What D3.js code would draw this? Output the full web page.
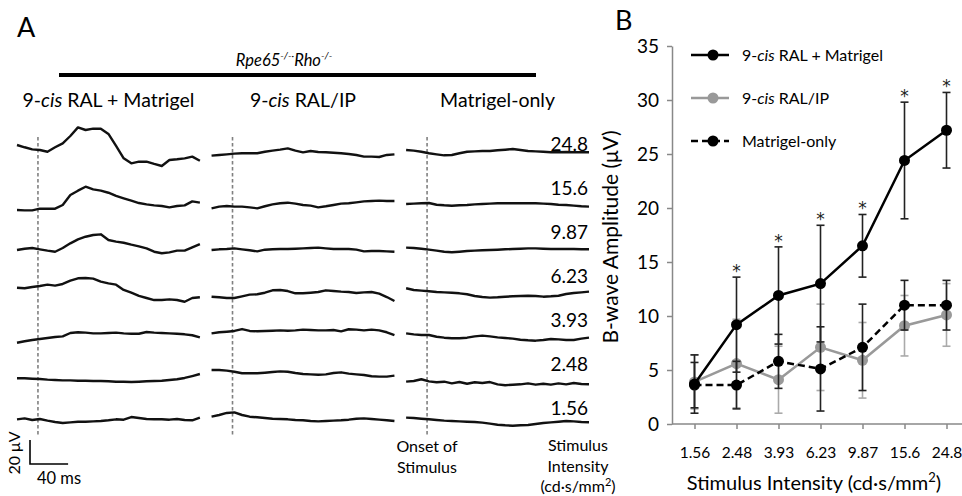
<!DOCTYPE html>
<html>
<head>
<meta charset="utf-8">
<script src="https://cdn.jsdelivr.net/npm/d3@7"></script>
<style>
body { margin: 0; background: #fff; }
svg { font-family: Lato, "Open Sans", sans-serif; }
</style>
</head>
<body>
<svg id="chart" width="962" height="496"></svg>
<script>
// ---- panel A data ----
var intensities = ["24.8", "15.6", "9.87", "6.23", "3.93", "2.48", "1.56"]
var groups = ["9-cis RAL + Matrigel", "9-cis RAL/IP", "Matrigel-only"]

// ERG traces in µV, one sample every 8 ms starting 22 ms before the flash
var tracesRalMatrigel = [
  [10.0, 8.1, 6.4, 5.8, 4.4, 8.1, 11.4, 17.5, 24.7, 22.5, 23.6, 23.6, 19.2, 9.2, -1.1, -5.3, -3.9, -3.9, -5.8, -7.5, -2.5, -1.9, -1.1, 0.3, -3.1],
  [-7.5, -7.8, -7.8, -6.4, -6.4, -6.4, -3.3, 5.0, 8.6, 11.9, 9.7, 8.6, 6.9, 4.2, 2.2, 0.3, -1.7, -2.8, -3.6, -4.2, -5.3, -4.2, -3.6, -0.3, -1.4],
  [-4.2, -3.1, -2.5, -3.6, -4.7, -5.6, -2.5, 1.4, 4.7, 6.9, 8.3, 8.9, 4.2, 2.8, 1.9, 0.3, -1.1, -2.8, -5.6, -6.9, -6.1, -4.7, -4.7, -1.9, 0.8],
  [1.1, 0.6, 1.7, 2.5, 3.6, 2.8, 4.2, 6.9, 8.9, 9.2, 8.6, 6.1, 4.7, 3.6, -0.8, -3.1, -5.8, -7.5, -9.2, -9.2, -8.6, -9.2, -10.6, -7.5, -6.9],
  [-8.1, -6.9, -5.8, -5.0, -4.2, -3.3, -2.8, 0, 0.6, 0.3, -0.3, -0.3, 0, 0.3, -0.3, -0.6, -0.6, 0.8, 0.3, 0, -0.3, -0.6, -1.1, -1.9, -3.6],
  [-1.1, -1.1, -1.4, -1.7, -2.2, -2.5, -2.8, -2.8, -3.1, -3.1, -3.3, -3.3, -3.6, -3.9, -3.9, -4.2, -3.9, -3.6, -3.3, -3.1, -2.5, -1.9, -0.8, 0.8, 2.5],
  [1.4, 2.2, 0.8, 1.7, 0.3, -0.8, -1.7, -1.1, -0.6, -0.6, -0.3, 0, 0.6, 1.4, 1.1, 3.3, 2.5, 1.7, 1.4, 1.4, 1.1, 1.7, 0.8, 0.6, 2.8]
]
var tracesRalIP = [
  [1.1, 1.7, 2.2, 2.8, 3.1, 3.1, 3.1, 4.4, 5.3, 6.1, 7.2, 5.3, 3.9, 5.0, 4.2, 3.9, 3.6, 3.1, 2.5, 1.7, 0.3, 0.3, 0, 1.7, 2.2],
  [-6.1, -4.7, -4.2, -4.7, -4.7, -5.3, -6.1, -4.4, -2.8, -1.9, -1.4, -2.2, -3.3, -3.9, -5.3, -4.4, -3.3, -2.2, -1.9, -1.1, -0.3, 0, 0.3, 0, 0],
  [-4.2, -3.6, -3.3, -2.8, -3.6, -4.4, -5.3, -3.9, -3.6, -3.3, -3.3, -3.1, -2.8, -2.5, -2.2, -2.8, -3.3, -3.3, -3.3, -3.9, -5.3, -5.0, -5.0, -5.3, -5.6],
  [-6.4, -6.9, -7.5, -7.5, -6.1, -4.7, -4.4, -3.1, -1.1, -0.8, -1.7, -3.6, -3.6, -3.1, -2.5, -1.1, -1.7, -2.2, -2.5, -3.3, -2.8, -2.5, -3.9, -6.7, -10.0],
  [-0.3, 0.6, 1.1, 1.7, 3.3, 1.7, 1.4, 1.7, 1.9, 2.2, 1.9, 2.2, 2.8, 2.5, 2.2, 2.2, 2.5, 1.4, 3.1, 2.8, 2.2, 2.8, 2.2, 0.6, -1.7],
  [5.8, 5.8, 5.3, 4.4, 3.1, 3.1, 3.1, 3.6, 4.2, 4.7, 4.4, 3.3, 2.5, 2.2, 1.9, 2.2, 3.3, 3.9, 2.8, 2.2, 1.7, 0.6, 0.3, 0.3, 1.1],
  [3.6, 5.0, 6.7, 7.2, 5.0, 3.6, 3.1, 2.5, 1.9, 1.7, 1.4, 0.8, 0.6, 0, -0.3, 0, 0.3, 0.6, 1.1, 1.9, 2.2, 1.7, 1.1, 0.6, 0]
]
var tracesMatrigelOnly = [
  [5.8, 5.3, 4.4, 3.1, 2.2, 1.4, 1.7, 3.1, 4.4, 4.7, 5.0, 5.0, 5.6, 6.1, 6.7, 5.8, 5.0, 4.7, 4.4, 3.9, 3.9, 4.2, 3.9, 3.9, 3.9],
  [-2.5, -2.2, -1.9, -1.7, -3.1, -3.6, -3.9, -3.6, -3.3, -2.8, -2.5, -2.2, -1.9, -1.9, -1.9, -1.9, -1.9, -1.9, -2.2, -2.5, -3.1, -3.3, -3.9, -4.4, -4.7],
  [-2.2, -2.5, -3.1, -3.9, -4.7, -5.6, -6.1, -5.6, -5.0, -4.7, -4.4, -4.2, -3.9, -3.6, -3.3, -3.1, -2.8, -2.8, -3.1, -3.3, -3.3, -3.3, -3.3, -3.6, -3.6],
  [0.6, -0.8, -1.4, -1.9, -2.5, -2.8, -3.1, -3.6, -4.4, -5.8, -6.7, -7.2, -6.9, -6.4, -6.1, -5.8, -5.6, -5.8, -6.4, -6.1, -5.6, -4.2, -3.3, -2.8, -2.2],
  [-0.3, -1.1, -1.7, -1.7, -3.1, -3.9, -4.4, -4.4, -3.9, -2.8, -2.2, -2.8, -3.6, -4.2, -4.7, -5.6, -6.1, -6.4, -5.8, -5.0, -5.3, -5.8, -5.8, -4.7, -3.9],
  [-3.9, -3.3, -1.9, -3.6, -4.4, -3.9, -5.3, -4.2, -5.6, -4.4, -5.0, -4.2, -6.1, -6.9, -6.4, -6.1, -5.3, -6.4, -5.6, -6.4, -5.3, -6.1, -5.0, -5.8, -6.1],
  [2.8, 2.5, 1.9, 1.4, 0.8, 0.3, 0, -0.3, -0.6, -0.8, -1.4, -2.2, -3.1, -3.6, -3.9, -3.6, -3.3, -2.5, -1.7, -1.1, -0.6, 0, -0.3, -0.8, -1.1]
]

// ---- panel B data ----
var xTicks = ["1.56", "2.48", "3.93", "6.23", "9.87", "15.6", "24.8"]
var yTicks = [0, 5, 10, 15, 20, 25, 30, 35]
var ralMatrigel = [3.7, 9.2, 11.9, 13.0, 16.5, 24.4, 27.2]
var ralMatrigelErr = [2.7, 4.4, 4.5, 5.4, 2.9, 5.4, 3.5]
var ralIP = [3.9, 5.6, 4.1, 7.1, 5.9, 9.1, 10.1]
var ralIPErr = [2.5, 4.1, 3.1, 4.0, 3.5, 2.8, 2.9]
var matrigelOnly = [3.6, 3.6, 5.8, 5.1, 7.1, 11.0, 11.0]
var matrigelOnlyErr = [2.1, 2.2, 2.5, 3.9, 4.0, 2.3, 2.3]
var significant = [false, true, true, true, true, true, true]

var svg = d3.select("#chart")

// italic "cis" inside a label
function cisText(sel, label) {
  var parts = label.split("cis")
  if (parts.length < 2) { sel.text(label); return }
  sel.append("tspan").text(parts[0])
  sel.append("tspan").style("font-style", "italic").text("cis")
  sel.append("tspan").text(parts[1])
}

// ================= Panel A =================
var colX = d3.scaleBand().domain(groups).range([17, 589]).paddingInner(0.06)
var rowY = d3.scalePoint().domain(intensities).range([157, 421])
var amp = d3.scaleLinear().domain([0, 20]).range([0, -24])   // µV -> px offset
var t0 = -22, dt = 8

svg.append("text").attr("x", 17).attr("y", 37).attr("font-size", 27).text("A")

var geno = svg.append("text").attr("x", 284).attr("y", 66).attr("text-anchor", "middle")
  .attr("font-size", 16.5).style("font-style", "italic")
geno.append("tspan").text("Rpe65")
geno.append("tspan").attr("dy", -7).attr("font-size", 10).text("-/-·")
geno.append("tspan").attr("dy", 7).text("Rho")
geno.append("tspan").attr("dy", -7).attr("font-size", 10).text("-/-")

svg.append("line").attr("x1", 59).attr("x2", 536).attr("y1", 75).attr("y2", 75)
  .attr("stroke", "#000").attr("stroke-width", 4)

svg.selectAll(".gtitle").data(groups).enter().append("text")
  .attr("class", "gtitle")
  .attr("x", function(d) { return colX(d) + colX.bandwidth() / 2 })
  .attr("y", 107).attr("text-anchor", "middle").attr("font-size", 19.5)
  .each(function(d) { cisText(d3.select(this), d) })

var allTraces = [tracesRalMatrigel, tracesRalIP, tracesMatrigelOnly]

groups.forEach(function(g, gi) {
  var tx = d3.scaleLinear().domain([t0, t0 + dt * 24]).range([colX(g), colX(g) + colX.bandwidth()])

  svg.append("line").attr("x1", tx(0)).attr("x2", tx(0)).attr("y1", 137).attr("y2", 437)
    .attr("stroke", "#808080").attr("stroke-width", 1.6).attr("stroke-dasharray", "3.5,2.5")

  allTraces[gi].forEach(function(tr, ri) {
    var base = rowY(intensities[ri])
    var line = d3.line()
      .x(function(v, i) { return tx(t0 + dt * i) })
      .y(function(v) { return base + amp(v) })
    svg.append("path").attr("d", line(tr)).attr("fill", "none")
      .attr("stroke", "#111").attr("stroke-width", 2.4).attr("stroke-linejoin", "round")
  })
})

svg.selectAll(".ilab").data(intensities).enter().append("text")
  .attr("class", "ilab").attr("x", 588).attr("y", function(d) { return rowY(d) - 6 })
  .attr("text-anchor", "end").attr("font-size", 19).text(function(d) { return d })

// scale bar (20 µV, 40 ms)
var txBar = d3.scaleLinear().domain([t0, t0 + dt * 24]).range([colX(groups[0]), colX(groups[0]) + colX.bandwidth()])
var bx = 30, by = 464
var barW = txBar(40) - txBar(0)
svg.append("path")
  .attr("d", "M" + bx + "," + (by + amp(20)) + "V" + by + "H" + (bx + barW))
  .attr("fill", "none").attr("stroke", "#000").attr("stroke-width", 1.6)
svg.append("text").attr("transform", "translate(20,453) rotate(-90)").attr("text-anchor", "middle")
  .attr("font-size", 16).text("20 μV")
svg.append("text").attr("x", 37).attr("y", 484).attr("font-size", 16.5).text("40 ms")

var onset = svg.append("text").attr("text-anchor", "middle").attr("font-size", 16)
onset.append("tspan").attr("x", 427).attr("y", 452).text("Onset of")
onset.append("tspan").attr("x", 427).attr("y", 473).text("Stimulus")
var si = svg.append("text").attr("text-anchor", "middle").attr("font-size", 16)
si.append("tspan").attr("x", 578).attr("y", 451).text("Stimulus")
si.append("tspan").attr("x", 578).attr("y", 472).text("Intensity")
si.append("tspan").attr("x", 578).attr("y", 492).text("(cd·s/mm")
si.append("tspan").attr("dy", -6).attr("font-size", 11).text("2")
si.append("tspan").attr("dy", 6).text(")")

// ================= Panel B =================
var x = d3.scalePoint().domain(xTicks).range([673.5, 967.5]).padding(0.5)
var y = d3.scaleLinear().domain([0, 35]).range([424, 46])

svg.append("text").attr("x", 615).attr("y", 30).attr("font-size", 27).text("B")

var gy = svg.append("g").attr("transform", "translate(672,0)")
  .call(d3.axisLeft(y).tickValues(yTicks).tickSize(5).tickSizeOuter(0).tickPadding(8))
gy.selectAll("text").attr("font-size", 19).attr("font-family", "Lato, sans-serif").attr("fill", "#000")
gy.selectAll("line, path").attr("stroke", "#888").attr("stroke-width", 1.5)

var gx = svg.append("g").attr("transform", "translate(0,424)")
  .call(d3.axisBottom(x).tickSize(5).tickSizeOuter(0).tickPadding(18))
gx.select(".domain").attr("d", "M672,0H962")
gx.selectAll("text").attr("font-size", 15.5).attr("font-family", "Lato, sans-serif").attr("fill", "#000")
gx.selectAll("line, path").attr("stroke", "#888").attr("stroke-width", 1.5)

svg.append("text").attr("transform", "translate(618,237) rotate(-90)").attr("text-anchor", "middle")
  .attr("font-size", 21).text("B-wave Amplitude (μV)")

var xt = svg.append("text").attr("x", 814).attr("y", 490).attr("text-anchor", "middle").attr("font-size", 20)
xt.append("tspan").text("Stimulus Intensity (cd·s/mm")
xt.append("tspan").attr("dy", -8).attr("font-size", 13).text("2")
xt.append("tspan").attr("dy", 8).text(")")

var series = [
  { name: "9-cis RAL + Matrigel", vals: ralMatrigel, err: ralMatrigelErr, color: "#000", bar: "#222", dash: null },
  { name: "9-cis RAL/IP", vals: ralIP, err: ralIPErr, color: "#999", bar: "#aaa", dash: null },
  { name: "Matrigel-only", vals: matrigelOnly, err: matrigelOnlyErr, color: "#000", bar: "#222", dash: "7,4" }
]
var drawOrder = [1, 2, 0]

drawOrder.forEach(function(si) {
  var s = series[si]
  var g = svg.append("g")
  s.vals.forEach(function(v, i) {
    var cx = x(xTicks[i])
    var top = y(v + s.err[i]), bot = y(v - s.err[i])
    g.append("line").attr("x1", cx).attr("x2", cx).attr("y1", top).attr("y2", bot)
      .attr("stroke", s.bar).attr("stroke-width", 1.6)
    ;[top, bot].forEach(function(yy) {
      g.append("line").attr("x1", cx - 4).attr("x2", cx + 4).attr("y1", yy).attr("y2", yy)
        .attr("stroke", s.bar).attr("stroke-width", 1.6)
    })
  })
  var line = d3.line().x(function(v, i) { return x(xTicks[i]) }).y(function(v) { return y(v) })
  g.append("path").attr("d", line(s.vals)).attr("fill", "none").attr("stroke", s.color)
    .attr("stroke-width", 2.5).attr("stroke-dasharray", s.dash)
  g.selectAll("circle").data(s.vals).enter().append("circle")
    .attr("cx", function(v, i) { return x(xTicks[i]) }).attr("cy", function(v) { return y(v) })
    .attr("r", 5.5).attr("fill", s.color)
})

// significance stars
var starIdx = d3.range(xTicks.length).filter(function(i) { return significant[i] })
svg.selectAll(".star").data(starIdx).enter().append("text")
  .attr("class", "star")
  .attr("x", function(i) { return x(xTicks[i]) })
  .attr("y", function(i) { return y(ralMatrigel[i] + ralMatrigelErr[i]) + 0 })
  .attr("text-anchor", "middle").attr("font-size", 17).attr("font-family", "DejaVu Sans, sans-serif")
  .attr("fill", "#222").text("*")

// legend
var legY = d3.scalePoint().domain(series.map(function(s) { return s.name })).range([55, 141])
series.forEach(function(s) {
  var ly = legY(s.name)
  svg.append("line").attr("x1", 691).attr("x2", 729).attr("y1", ly).attr("y2", ly)
    .attr("stroke", s.color).attr("stroke-width", 2.5).attr("stroke-dasharray", s.dash)
  svg.append("circle").attr("cx", 713).attr("cy", ly).attr("r", 5.5).attr("fill", s.color)
  var t = svg.append("text").attr("x", 742).attr("y", ly + 5.5).attr("font-size", 16)
  cisText(t, s.name)
})
</script>
</body>
</html>
